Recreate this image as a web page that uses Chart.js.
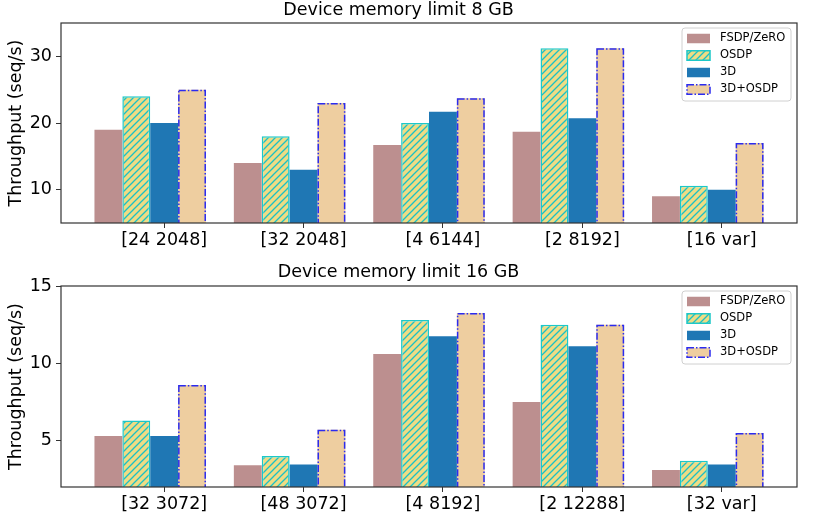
<!DOCTYPE html>
<html>
<head>
<meta charset="utf-8">
<script src="https://cdn.jsdelivr.net/npm/chart.js@4.4.0/dist/chart.umd.min.js"></script>
<style>
    body { margin: 0; background: #fff; }
    .wrap { position: relative; width: 831px; height: 530px; }
    canvas { position: absolute; left: 0; }
</style>
</head>
<body>
<div class="wrap">
    <canvas id="chart8" width="831" height="260" style="top:0"></canvas>
    <canvas id="chart16" width="831" height="270" style="top:260px"></canvas>
</div>
<script>
// series names, shared by both panels
const seriesNames = ['FSDP/ZeRO', 'OSDP', '3D', '3D+OSDP'];

// panel 1: device memory limit 8 GB
const categories8 = ['[24 2048]', '[32 2048]', '[4 6144]', '[2 8192]', '[16 var]'];
const fsdp8 = [19, 14, 16.7, 18.7, 9];
const osdp8 = [24, 18, 20, 31.2, 10.6];
const threeD8 = [20, 13, 21.7, 20.7, 10];
const threeDOsdp8 = [25, 23, 23.7, 31.2, 17];
const yTicks8 = [10, 20, 30];

// panel 2: device memory limit 16 GB
const categories16 = ['[32 3072]', '[48 3072]', '[4 8192]', '[2 12288]', '[32 var]'];
const fsdp16 = [5.3, 3.4, 10.6, 7.5, 3.1];
const osdp16 = [6.3, 4.0, 12.8, 12.5, 3.7];
const threeD16 = [5.3, 3.45, 11.75, 11.1, 3.45];
const threeDOsdp16 = [8.6, 5.7, 13.25, 12.5, 5.5];
const yTicks16 = [5, 10, 15];

const FONT = 'DejaVu Sans';

//hatch pattern for the OSDP bars
function makeHatch() {
    const s = 7;
    const c = document.createElement('canvas');
    c.width = s; c.height = s;
    const g = c.getContext('2d');
    g.fillStyle = '#eedc84';
    g.fillRect(0, 0, s, s);
    g.strokeStyle = '#1cc0c4';
    g.lineWidth = 1.3;
    g.beginPath();
    g.moveTo(-1, s + 1); g.lineTo(s + 1, -1);
    g.moveTo(-1, 1); g.lineTo(1, -1);
    g.moveTo(s - 1, s + 1); g.lineTo(s + 1, s - 1);
    g.stroke();
    return g.createPattern(c, 'repeat');
}

function setDashDot(ctx) {
    ctx.strokeStyle = '#2b2bf0';
    ctx.lineWidth = 1.5;
    ctx.setLineDash([7, 2, 1.5, 2]);
}

//draws the dash-dot bar outlines, the axes box and the legend
const extrasPlugin = {
    id: 'extras',
    afterDatasetsDraw(chart) {
        const ctx = chart.ctx, a = chart.chartArea;
        ctx.save();
        ctx.beginPath();
        ctx.rect(a.left, a.top, a.right - a.left, a.bottom - a.top);
        ctx.clip();
        chart.data.datasets.forEach((ds, di) => {
            if (!ds.dashBorder) return;
            setDashDot(ctx);
            chart.getDatasetMeta(di).data.forEach(el => {
                const p = el.getProps(['x', 'y', 'base', 'width'], true);
                ctx.strokeRect(p.x - p.width / 2 + 0.75, p.y + 0.75, p.width - 1.5, p.base - p.y);
            });
        });
        ctx.restore();
    },
    afterDraw(chart) {
        const ctx = chart.ctx, a = chart.chartArea;
        ctx.save();
        // axes box
        ctx.strokeStyle = '#333';
        ctx.lineWidth = 1.2;
        ctx.strokeRect(a.left, a.top, a.right - a.left, a.bottom - a.top);

        // legend
        const bw = 109, bh = 73;
        const bx = a.right - 6 - bw, by = a.top + 5;
        ctx.beginPath();
        ctx.roundRect(bx, by, bw, bh, 3);
        ctx.fillStyle = 'rgba(255,255,255,0.8)';
        ctx.fill();
        ctx.strokeStyle = '#d0d0d0';
        ctx.lineWidth = 1;
        ctx.stroke();

        chart.data.datasets.forEach((ds, i) => {
            const cy = by + 10.5 + i * 17;
            const hx = bx + 5, hw = 23, hh = 9.5, hy = cy - hh / 2;
            ctx.fillStyle = ds.backgroundColor;
            ctx.fillRect(hx, hy, hw, hh);
            if (ds.borderWidth) {
                ctx.setLineDash([]);
                ctx.strokeStyle = ds.borderColor;
                ctx.lineWidth = 1.5;
                ctx.strokeRect(hx, hy, hw, hh);
            }
            if (ds.dashBorder) {
                setDashDot(ctx);
                ctx.strokeRect(hx, hy, hw, hh);
            }
            ctx.setLineDash([]);
            ctx.fillStyle = '#000';
            ctx.font = '11.5px "' + FONT + '"';
            ctx.textBaseline = 'middle';
            ctx.textAlign = 'left';
            ctx.fillText(ds.label, bx + 38, cy);
        });
        ctx.restore();
    }
};

function buildChart(canvasId, title, cats, series, yMin, yMax, yTicks, titlePad, xAxisHeight) {
    const hatch = makeHatch();
    const tickShift = 0.1; // labels sit under the third bar of each group
    const toPoints = vals => vals.map((v, i) => ({ x: i, y: v }));

    const datasets = [
        { label: seriesNames[0], data: toPoints(series[0]), backgroundColor: '#bc8f8f', borderWidth: 0 },
        { label: seriesNames[1], data: toPoints(series[1]), backgroundColor: hatch,
          borderColor: '#1cc8c8', borderWidth: 1.5, borderSkipped: false },
        { label: seriesNames[2], data: toPoints(series[2]), backgroundColor: '#1f77b4', borderWidth: 0 },
        { label: seriesNames[3], data: toPoints(series[3]), backgroundColor: '#eecea0', borderWidth: 0,
          dashBorder: true }
    ];
    datasets.forEach(d => { d.categoryPercentage = 0.8; d.barPercentage = 1; });

    const tickFont = { family: FONT, size: 17.5 };

    return new Chart(document.getElementById(canvasId), {
        type: 'bar',
        data: { datasets },
        options: {
            responsive: false,
            animation: false,
            events: [],
            layout: { padding: { left: 0, right: 34, top: 0, bottom: 0 } },
            plugins: {
                legend: { display: false },
                tooltip: { enabled: false },
                title: {
                    display: true, text: title, color: '#000',
                    font: { family: FONT, size: 17.5, weight: 'normal' },
                    padding: titlePad
                }
            },
            scales: {
                x: {
                    type: 'linear', min: -0.64, max: 4.64, offset: false,
                    afterBuildTicks: s => { s.ticks = cats.map((c, i) => ({ value: i + tickShift })); },
                    afterFit: s => { s.height = xAxisHeight; },
                    ticks: { callback: (v, i) => cats[i], color: '#000', font: tickFont,
                             padding: 2, maxRotation: 0, autoSkip: false },
                    grid: { offset: false, drawOnChartArea: false, tickLength: 5, color: '#333' },
                    border: { display: false }
                },
                y: {
                    min: yMin, max: yMax,
                    afterBuildTicks: s => { s.ticks = yTicks.map(v => ({ value: v })); },
                    afterFit: s => { s.width = 61; },
                    ticks: { color: '#000', font: tickFont, padding: 4 },
                    grid: { drawOnChartArea: false, tickLength: 5, color: '#333' },
                    border: { display: false },
                    title: { display: true, text: 'Throughput (seq/s)', color: '#000',
                             font: tickFont, padding: { top: 6, bottom: 0 } }
                }
            }
        },
        plugins: [extrasPlugin]
    });
}

buildChart('chart8', 'Device memory limit 8 GB', categories8,
    [fsdp8, osdp8, threeD8, threeDOsdp8], 5, 35, yTicks8, { top: 0, bottom: 2 }, 37);
buildChart('chart16', 'Device memory limit 16 GB', categories16,
    [fsdp16, osdp16, threeD16, threeDOsdp16], 2, 15, yTicks16, { top: 2, bottom: 3 }, 43);
</script>
</body>
</html>
